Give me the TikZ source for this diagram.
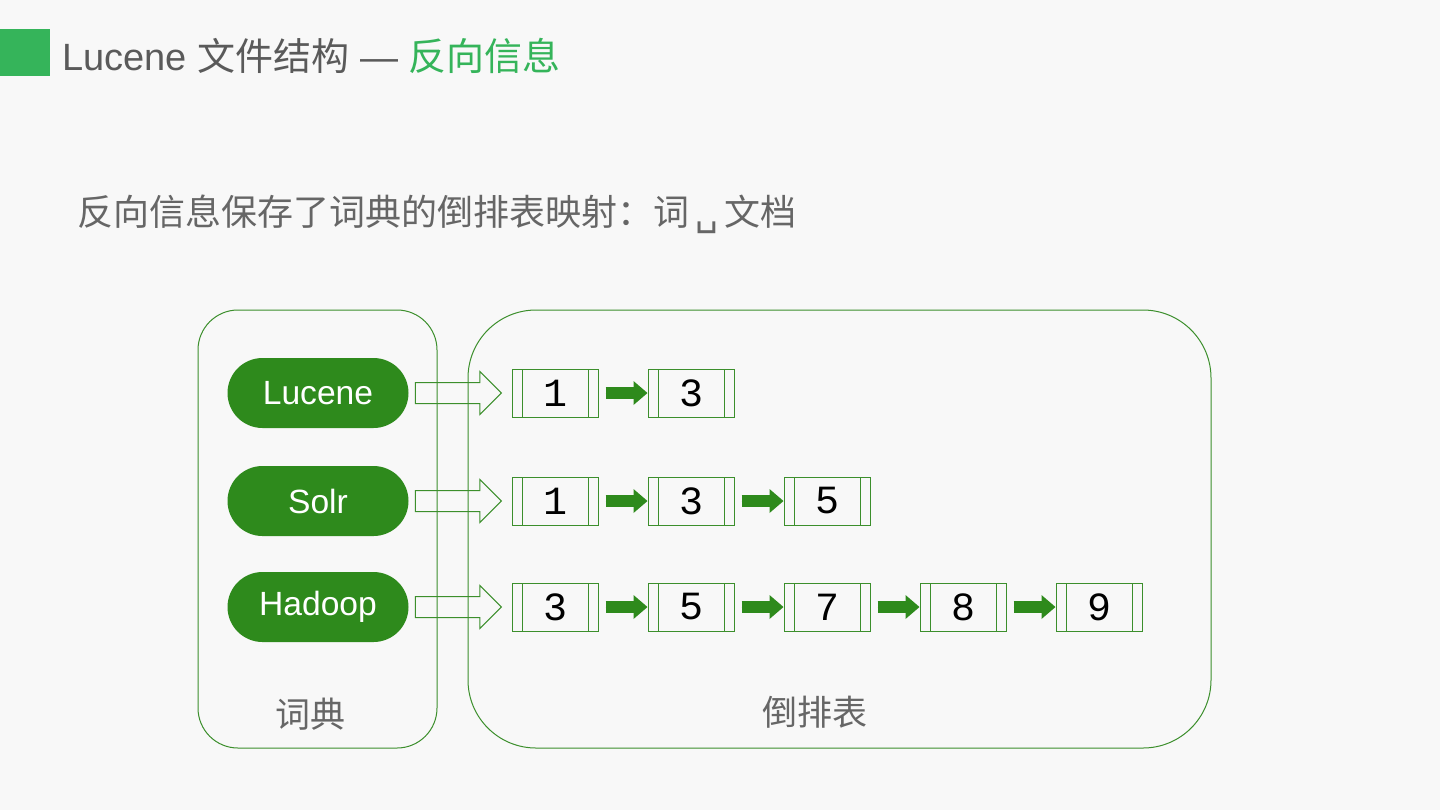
\documentclass[tikz,border=0pt]{standalone}
\usepackage{fontspec}
\setmainfont{Liberation Sans}
\newfontfamily\cjk{Noto Sans CJK SC}
\newfontfamily\monof{Liberation Mono}
\newfontfamily\symf{DejaVu Sans}
\usetikzlibrary{positioning,arrows.meta,shapes.misc,shapes.arrows,calc}
\definecolor{luGreen}{HTML}{35B45A}
\definecolor{luGreenD}{HTML}{2E8A1C}
\definecolor{luLine}{HTML}{3C8F2C}
\definecolor{luGray}{HTML}{666666}
\definecolor{luGrayD}{HTML}{5A5A5A}
\definecolor{luBg}{HTML}{F8F8F8}
\tikzset{
  lu-frame/.style={draw=luLine, line width=0.5pt, inner sep=0pt},
  lu-pill/.style={rounded rectangle, fill=luGreenD, text=white,
    minimum width=90.5pt, minimum height=35pt, inner sep=0pt,
    font=\fontsize{16.8}{18}\selectfont},
  lu-cell/.style={draw=luLine, line width=0.5pt, minimum width=43pt,
    minimum height=24pt, inner sep=0pt,
    font=\monof\fontsize{20}{22}\selectfont,
    path picture={\draw[luLine, line width=0.5pt]
      ([xshift=5pt]path picture bounding box.north west) --
      ([xshift=5pt]path picture bounding box.south west)
      ([xshift=-5pt]path picture bounding box.north east) --
      ([xshift=-5pt]path picture bounding box.south east);}},
  lu-hollow/.style={single arrow, draw=luLine, line width=0.5pt,
    minimum height=43pt, inner xsep=0pt, inner ysep=5pt,
    single arrow head extend=5.5pt, anchor=west, xshift=3pt},
  lu-flow/.style={-{Triangle[length=7pt 0 0, width=12pt 0 0, line width=0pt 0 0]},
    line width=6pt, draw=luGreenD, fill=luGreenD},
  lu-title/.style={font=\fontsize{19}{21}\selectfont, text=luGrayD,
    inner sep=0pt},
  lu-text/.style={font=\cjk\fontsize{18}{20}\selectfont, text=luGray,
    inner sep=0pt},
  lu-label/.style={font=\cjk\fontsize{17.5}{20}\selectfont, text=luGray,
    inner sep=0pt}
}
\begin{document}
\begin{tikzpicture}[x=0.5pt, y=-0.5pt, node distance=24.5pt]
\fill[luBg] (0,0) rectangle (1440,810);
\useasboundingbox (0,0) rectangle (1440,810);
% title
\fill[luGreen] (0,29) rectangle (50,76);
\node[lu-title, anchor=base west] (title) at (62,70)
  {Lucene {\cjk 文件结构} — {\cjk\color{luGreen}反向信息}};
\node[lu-text, anchor=base west] (sub) at (77,225)
  {反向信息保存了词典的倒排表映射：词\,{\symf ␣}\,文档};

% frames
\node[lu-frame, rounded corners=20pt, minimum width=119.5pt,
  minimum height=219pt] (dict) at (317.5,529) {};
\node[lu-frame, rounded corners=34pt, minimum width=371.5pt,
  minimum height=219pt] (post) at (839.5,529) {};
\node[lu-label, anchor=base] (dictlbl) at (310,727) {词典};
\node[lu-label, anchor=base] (postlbl) at (815,725) {倒排表};

% terms
\node[lu-pill] (tLucene) at (318,393) {Lucene};
\node[lu-pill] (tSolr) at (318,501) {Solr};
\node[lu-pill] (tHadoop) at (318,607) {Hadoop};

% posting lists
\node[lu-cell] (l1) at (555,393) {1};
\node[lu-cell, right=of l1] (l2) {3};

\node[lu-cell] (s1) at (555,501) {1};
\node[lu-cell, right=of s1] (s2) {3};
\node[lu-cell, right=of s2] (s3) {5};

\node[lu-cell] (h1) at (555,607) {3};
\node[lu-cell, right=of h1] (h2) {5};
\node[lu-cell, right=of h2] (h3) {7};
\node[lu-cell, right=of h3] (h4) {8};
\node[lu-cell, right=of h4] (h5) {9};

% term -> list
\node[lu-hollow] (aLucene) at (tLucene.east) {};
\node[lu-hollow] (aSolr) at (tSolr.east) {};
\node[lu-hollow] (aHadoop) at (tHadoop.east) {};

% links
\draw[lu-flow] ([xshift=3.5pt]l1.east) -- (l2.west);
\draw[lu-flow] ([xshift=3.5pt]s1.east) -- (s2.west);
\draw[lu-flow] ([xshift=3.5pt]s2.east) -- (s3.west);
\draw[lu-flow] ([xshift=3.5pt]h1.east) -- (h2.west);
\draw[lu-flow] ([xshift=3.5pt]h2.east) -- (h3.west);
\draw[lu-flow] ([xshift=3.5pt]h3.east) -- (h4.west);
\draw[lu-flow] ([xshift=3.5pt]h4.east) -- (h5.west);
\end{tikzpicture}
\end{document}
